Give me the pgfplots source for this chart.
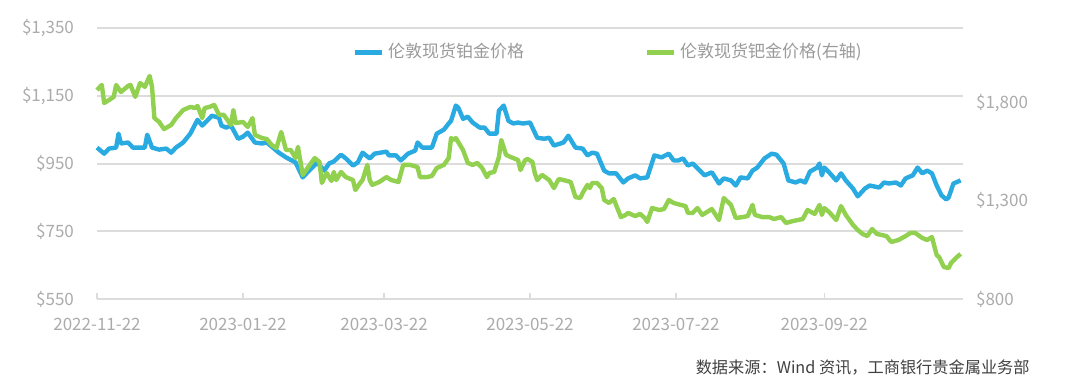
\documentclass[border=0pt]{standalone}
\usepackage{pgfplots}
\pgfplotsset{compat=1.18}
\usepackage{fontspec}
\setmainfont{Noto Sans CJK SC}
\definecolor{ptc}{HTML}{29ABE2}
\definecolor{pdc}{HTML}{92D050}
\definecolor{tickc}{HTML}{ABABAB}
\definecolor{gridc}{HTML}{DCDCDC}
\definecolor{legc}{HTML}{9A9A9A}
\definecolor{srcc}{HTML}{404040}
\begin{document}
\begin{tikzpicture}[font=\fontsize{8.5pt}{10pt}\selectfont]
\useasboundingbox (0,0) rectangle (540pt,195pt);
\pgfplotsset{
  base/.style={at={(48.5pt,45.5pt)}, anchor=south west, scale only axis,
    width=433pt, height=135.5pt, xmin=0, xmax=362, clip=false},
}
\begin{axis}[base,
  ymin=550, ymax=1350,
  axis x line*=bottom, axis y line*=left,
  y axis line style={draw=none},
  x axis line style={gridc, line width=0.8pt},
  xtick={0,61,120,181,242,304},
  xticklabels={2022-11-22,2023-01-22,2023-03-22,2023-05-22,2023-07-22,2023-09-22},
  xtick style={gridc, line width=0.6pt},
  major tick length=3pt,
  ytick={550,750,950,1150,1350},
  yticklabels={\$550,\$750,\$950,\$1{,}150,\$1{,}350},
  ytick style={draw=none},
  ymajorgrids, grid style={gridc, line width=1pt},
  yticklabel style={text=tickc, anchor=east, xshift=-8pt},
  xticklabel style={text=tickc, yshift=-6pt},
]
\addplot[ptc, line width=2.2pt, line join=round] coordinates {
(0,997)(3,979)(5,994)(8,997)(9,1038)(10,1009)(13,1012)(15,997)(17,997)(20,997)(21,1035)(23,997)(26,991)(29,994)(31,982)(33,997)(36,1012)(39,1038)(42,1079)(44,1062)(46,1076)(48,1091)(51,1085)(52,1062)(54,1056)(56,1062)(59,1023)(61,1029)(63,1041)(66,1012)(69,1009)(71,1012)(73,1000)(76,982)(79,968)(83,953)(86,909)(88,924)(90,938)(92,953)(95,929)(97,950)(99,956)(102,976)(104,965)(107,944)(109,953)(111,982)(114,965)(116,979)(121,985)(122,974)(125,974)(127,959)(130,979)(133,988)(134,1012)(136,997)(140,997)(142,1038)(145,1050)(147,1068)(148,1076)(150,1121)(151,1115)(153,1082)(155,1088)(157,1071)(160,1056)(162,1056)(164,1038)(167,1038)(168,1106)(170,1121)(172,1076)(174,1068)(176,1071)(178,1068)(181,1071)(184,1026)(187,1023)(189,1026)(191,1003)(195,1012)(197,1032)(200,997)(203,994)(205,974)(207,982)(209,979)(212,929)(214,921)(217,921)(220,894)(222,906)(225,915)(227,906)(230,909)(233,974)(236,968)(239,979)(241,959)(243,959)(245,965)(247,944)(249,950)(252,929)(254,915)(257,924)(260,891)(262,906)(265,900)(267,885)(269,909)(272,906)(274,929)(276,938)(279,965)(282,979)(284,976)(287,950)(289,900)(292,894)(294,900)(296,894)(298,926)(301,938)(302,950)(303,915)(304,938)(306,924)(309,900)(311,921)(313,900)(316,876)(318,853)(321,876)(323,885)(327,879)(329,894)(331,891)(334,894)(336,885)(338,906)(341,915)(343,938)(345,921)(347,929)(349,921)(351,885)(353,856)(355,844)(356,850)(358,891)(361,900)
};
\end{axis}
\begin{axis}[base,
  ymin=800, ymax=2182.6,
  axis x line=none, axis y line*=right,
  y axis line style={draw=none},
  ytick={800,1300,1800},
  yticklabels={\$800,\$1{,}300,\$1{,}800},
  ytick style={draw=none},
  yticklabel style={text=tickc, anchor=west, xshift=3pt},
  legend style={at={(0.294,0.911)}, anchor=west, draw=none, fill=none,
    legend columns=2, text=legc, font=\fontsize{8.5pt}{10pt}\selectfont,
    /tikz/every even column/.append style={column sep=58pt},
    inner sep=0pt},
  legend cell align=left,
  legend image code/.code={\draw[#1, line width=2.5pt] (0pt,0pt) -- (13.5pt,0pt);},
]
\addlegendimage{ptc}
\addlegendentry{伦敦现货铂金价格}
\addplot[pdc, line width=2.2pt, line join=round] coordinates {
(0,1866)(2,1892)(3,1800)(5,1815)(7,1831)(8,1892)(10,1856)(13,1887)(14,1892)(16,1831)(18,1902)(20,1882)(22,1938)(23,1882)(24,1723)(26,1703)(28,1667)(31,1688)(33,1723)(36,1764)(39,1780)(41,1774)(42,1785)(44,1723)(45,1774)(47,1780)(49,1790)(51,1739)(53,1739)(56,1688)(57,1764)(58,1698)(61,1703)(63,1678)(65,1723)(66,1637)(69,1621)(71,1616)(73,1586)(75,1570)(77,1652)(79,1560)(81,1560)(83,1519)(84,1576)(86,1433)(88,1468)(91,1519)(93,1499)(94,1392)(96,1443)(98,1402)(99,1448)(100,1407)(102,1448)(104,1422)(107,1407)(108,1356)(110,1392)(111,1407)(113,1484)(114,1407)(115,1382)(118,1397)(121,1422)(123,1407)(126,1397)(128,1484)(131,1484)(134,1473)(135,1422)(138,1422)(140,1428)(142,1468)(145,1484)(147,1519)(148,1621)(149,1611)(150,1621)(153,1560)(155,1494)(157,1484)(159,1494)(161,1468)(163,1422)(164,1443)(166,1448)(168,1524)(169,1611)(171,1535)(173,1524)(176,1509)(177,1458)(179,1509)(180,1514)(182,1499)(183,1443)(184,1407)(186,1433)(189,1407)(191,1366)(193,1412)(195,1407)(198,1397)(200,1320)(202,1315)(203,1341)(205,1382)(206,1366)(207,1392)(209,1392)(211,1366)(212,1305)(214,1290)(216,1310)(219,1218)(221,1229)(222,1239)(225,1223)(227,1234)(229,1213)(230,1193)(232,1264)(235,1254)(237,1259)(239,1305)(241,1290)(244,1280)(246,1274)(247,1239)(249,1239)(251,1264)(253,1229)(255,1244)(257,1259)(260,1203)(262,1315)(265,1280)(267,1213)(270,1218)(272,1223)(274,1280)(275,1229)(278,1218)(281,1218)(283,1208)(286,1218)(288,1188)(291,1198)(295,1208)(297,1254)(300,1234)(302,1280)(303,1229)(304,1264)(306,1244)(309,1203)(311,1274)(313,1229)(316,1178)(318,1152)(320,1132)(322,1121)(324,1157)(326,1132)(330,1121)(332,1091)(335,1101)(338,1121)(340,1137)(342,1137)(345,1111)(347,1101)(349,1116)(351,1024)(352,1014)(354,963)(356,958)(357,984)(359,1009)(361,1030)
};
\addlegendentry{伦敦现货钯金价格(右轴)}
\end{axis}
\node[anchor=east, inner sep=0pt, text=srcc, font=\fontsize{8.1pt}{10pt}\selectfont] at (515pt,11.5pt) {数据来源：Wind 资讯，工商银行贵金属业务部};
\end{tikzpicture}
\end{document}
